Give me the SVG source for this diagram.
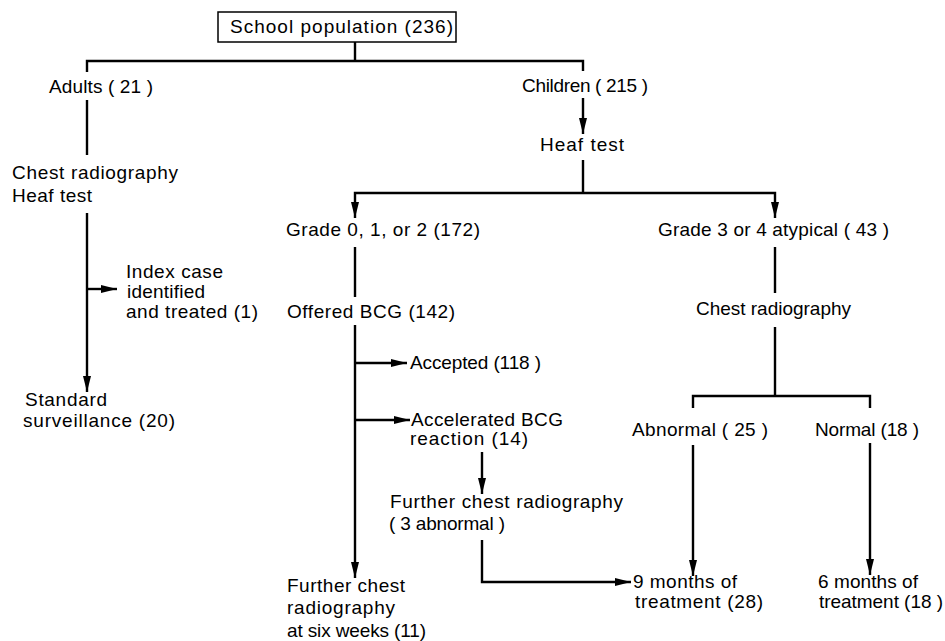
<svg xmlns="http://www.w3.org/2000/svg" width="945" height="641" viewBox="0 0 945 641">
<style>
text{font-family:"Liberation Sans",Arial,sans-serif;font-size:19px;fill:#000}
.c{fill:none;stroke:#000;stroke-width:2.4}
.a{marker-end:url(#ah)}
</style>
<defs>
<marker id="ah" markerUnits="userSpaceOnUse" markerWidth="17" markerHeight="8" refX="16" refY="4" orient="auto"><path d="M0,0 L16,4 L0,8 z" fill="#000"/></marker>
</defs>
<rect width="945" height="641" fill="#fff"/>
<g id="connectors">
<path class="c" d="M355,42 V61"/>
<path class="c" d="M87,72 V61 H583 V71"/>
<path class="c" d="M87,100 V155"/>
<path class="c a" d="M87,213 V392"/>
<path class="c a" d="M87,289 H117"/>
<path class="c a" d="M583,98 V134"/>
<path class="c" d="M583,160 V193"/>
<path class="c a" d="M583,193 H355 V218"/>
<path class="c a" d="M583,193 H775 V218"/>
<path class="c" d="M355,247 V297"/>
<path class="c a" d="M355,325 V578"/>
<path class="c a" d="M355,363 H407"/>
<path class="c a" d="M355,420 H410"/>
<path class="c a" d="M482,452 V494"/>
<path class="c a" d="M482,540 V582 H631"/>
<path class="c" d="M775,247 V293"/>
<path class="c" d="M775,327 V396"/>
<path class="c" d="M693,408 V396 H870 V408"/>
<path class="c a" d="M693,445 V576"/>
<path class="c a" d="M870,443 V575"/>
</g>
<g id="school"><rect x="218" y="12" width="238" height="30" fill="none" stroke="#000" stroke-width="1.5"/><text x="230" y="33" textLength="223">School population  (236)</text></g>
<g id="adults"><text x="49" y="93" textLength="104">Adults ( 21 )</text></g>
<g id="children"><text x="522" y="92" textLength="126">Children ( 215 )</text></g>
<g id="heaf-children"><text x="540" y="151" textLength="84">Heaf test</text></g>
<g id="adult-tests"><text x="12" y="179" textLength="166">Chest radiography</text><text x="12" y="202" textLength="80">Heaf test</text></g>
<g id="index-case"><text x="126" y="278" textLength="97">Index case</text><text x="127" y="298" textLength="78">identified</text><text x="126" y="318" textLength="132">and treated (1)</text></g>
<g id="standard"><text x="25" y="406" textLength="82">Standard</text><text x="23" y="427" textLength="152">surveillance (20)</text></g>
<g id="grade012"><text x="286" y="236" textLength="194">Grade 0, 1, or  2 (172)</text></g>
<g id="grade34"><text x="658" y="236" textLength="231">Grade 3 or 4 atypical ( 43 )</text></g>
<g id="offered"><text x="287" y="318" textLength="168">Offered BCG  (142)</text></g>
<g id="chest-right"><text x="696" y="315" textLength="155">Chest radiography</text></g>
<g id="accepted"><text x="410" y="369" textLength="131">Accepted  (118 )</text></g>
<g id="accelerated"><text x="411" y="426" textLength="152">Accelerated  BCG</text><text x="410" y="445" textLength="118">reaction   (14)</text></g>
<g id="further-3"><text x="390" y="508" textLength="233">Further chest radiography</text><text x="389" y="530" textLength="116">( 3 abnormal )</text></g>
<g id="further-six"><text x="287" y="592" textLength="118">Further chest</text><text x="287" y="614" textLength="108">radiography</text><text x="287" y="637" textLength="139">at six weeks (11)</text></g>
<g id="abnormal"><text x="632" y="436" textLength="136">Abnormal ( 25 )</text></g>
<g id="normal"><text x="815" y="436" textLength="104">Normal (18 )</text></g>
<g id="nine-months"><text x="633" y="588" textLength="104">9 months of</text><text x="635" y="608" textLength="128">treatment  (28)</text></g>
<g id="six-months"><text x="818" y="588" textLength="100">6 months of</text><text x="819" y="608" textLength="124">treatment  (18 )</text></g>
</svg>
